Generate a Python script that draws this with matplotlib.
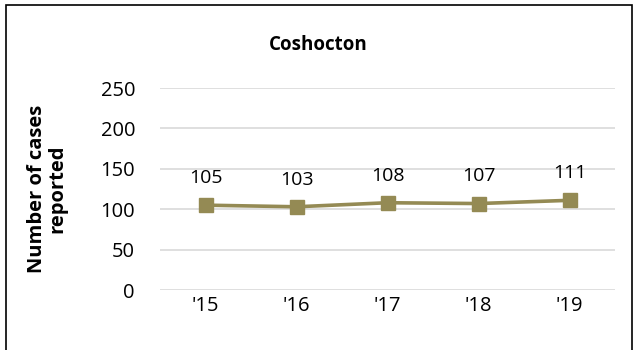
import matplotlib.pyplot as plt
from matplotlib.patches import Rectangle

years = ["'15", "'16", "'17", "'18", "'19"]
cases = [105, 103, 108, 107, 111]
yticks = [0, 50, 100, 150, 200, 250]

plt.rcParams['font.family'] = ['Open Sans', 'DejaVu Sans']

fig = plt.figure(figsize=(6.36, 3.5), dpi=100)
ax = fig.add_axes([160/636, 1-290/350, 455/636, 202/350])

x = range(len(years))
ax.plot(x, cases, color='#948A54', lw=2.6, marker='s', markersize=10.5)
for i, v in zip(x, cases):
    ax.annotate(str(v), (i, v), xytext=(0, 13), textcoords='offset points',
                ha='center', va='bottom', fontsize=14, color='#000000')

ax.set_xlim(-0.5, len(years) - 0.5)
ax.set_ylim(0, 250)
ax.set_yticks(yticks)
ax.set_xticks(list(x))
ax.set_xticklabels(years)
ax.tick_params(axis='both', length=0, labelsize=14.5, colors='#000000')
ax.tick_params(axis='y', pad=18)
ax.tick_params(axis='x', pad=4)
ax.grid(axis='y', color='#D9D9D9', lw=1.2)
ax.set_axisbelow(True)
for s in ax.spines.values():
    s.set_visible(False)

fig.text(318/636, 1-45/350, 'Coshocton', ha='center', va='center',
         fontsize=13.5, fontweight='bold')
fig.text(47/636, 1-189/350, 'Number of cases\nreported', ha='center', va='center',
         rotation=90, fontsize=14.5, fontweight='bold', linespacing=1.0)

fig.patches.append(Rectangle((6/636, -0.1), 626/636, 1.1 - 5/350,
                             transform=fig.transFigure, fill=False,
                             edgecolor='#000000', lw=1.2))

fig.savefig('out.png', dpi=100)
